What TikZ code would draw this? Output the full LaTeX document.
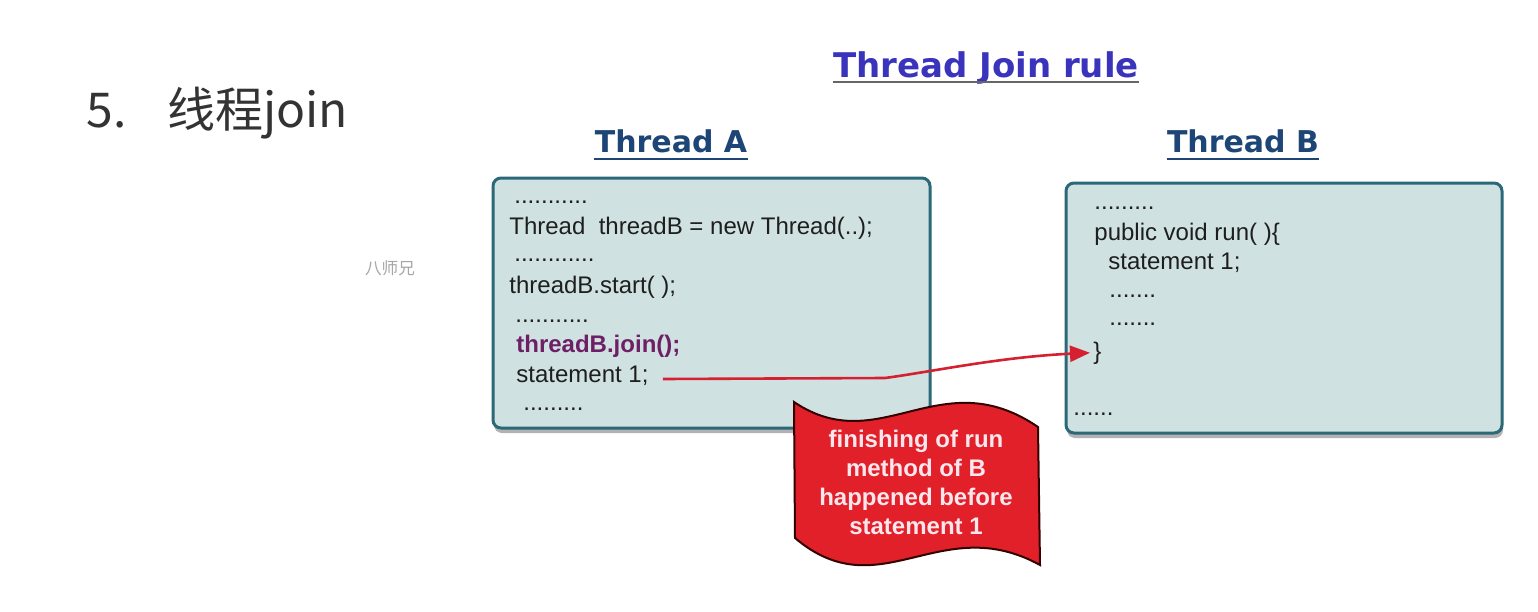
\documentclass[tikz,border=0pt]{standalone}
\usepackage{fontspec}
\setmainfont{Liberation Sans}
\newfontfamily\headfont{DejaVu Sans}
\newfontfamily\cjk{Noto Sans CJK SC}
\usetikzlibrary{arrows.meta,shadows}

\definecolor{boxfill}{HTML}{D0E1E1}
\definecolor{boxline}{HTML}{2B6878}
\definecolor{titleblue}{HTML}{3A33BC}
\definecolor{headblue}{HTML}{1D4576}
\definecolor{codeink}{HTML}{1E1E1E}
\definecolor{joinink}{HTML}{6E1F66}
\definecolor{flagred}{HTML}{E1202A}
\definecolor{arrowred}{HTML}{D42030}
\definecolor{flagink}{HTML}{FDE6EC}

\tikzset{
  codebox/.style={draw=boxline, line width=1.5pt, fill=boxfill, rounded corners=4pt,
    drop shadow={shadow xshift=0.5pt, shadow yshift=-2.5pt, opacity=0.3, fill=black}},
  code/.style={font=\fontsize{12}{14}\selectfont, text=codeink, inner sep=0pt, anchor=base west},
  heading/.style={font=\headfont\bfseries\fontsize{15}{18}\selectfont, text=headblue, inner sep=0pt, anchor=base},
  link/.style={draw=arrowred, line width=1.3pt, -{Triangle[length=10pt,width=8pt]}},
}

\begin{document}
\begin{tikzpicture}[x=0.5pt,y=-0.5pt]
\useasboundingbox (0,0) rectangle (1538,611);

% slide heading
\node[inner sep=0pt, anchor=base west, text=black!80, font=\cjk\fontsize{24}{28}\selectfont] (num) at (86,127) {5.};
\node[inner sep=0pt, anchor=base west, text=black!80, font=\cjk\fontsize{24}{28}\selectfont] (topic) at (167,127) {线程join};
\node[text=black!35, font=\cjk\fontsize{8.3}{10}\selectfont, inner sep=0pt] (mark) at (390,268) {八师兄};

% rule title
\node[inner sep=0pt, anchor=base, text=titleblue, font=\headfont\bfseries\fontsize{17}{20}\selectfont] (title) at (986,77) {Thread Join rule};
\draw[line width=1pt, draw=black!60] ([yshift=-2.5pt]title.base west) -- ([yshift=-2.5pt]title.base east);

% thread headings
\node[heading] (headA) at (671,152) {Thread A};
\draw[line width=1.2pt, draw=headblue] ([yshift=-3.5pt]headA.base west) -- ([yshift=-3.5pt]headA.base east);
\node[heading] (headB) at (1243,152) {Thread B};
\draw[line width=1.2pt, draw=headblue] ([yshift=-3.5pt]headB.base west) -- ([yshift=-3.5pt]headB.base east);

% code boxes
\node[codebox, minimum width=218.5pt, minimum height=125pt] (boxA) at (711.5,303) {};
\node[codebox, minimum width=218pt, minimum height=125pt] (boxB) at (1284,308) {};

% Thread A code
\node[code] (a1) at (514,203) {...........};
\node[code] (a2) at (509,234) {Thread\ \ threadB = new Thread(..);};
\node[code] (a3) at (514,261) {............};
\node[code] (a4) at (509,293) {threadB.start( );};
\node[code] (a5) at (515,322) {...........};
\node[code, text=joinink, font=\bfseries\fontsize{12}{14}\selectfont] (a6) at (516,352) {threadB.join();};
\node[code] (sA) at (516,382) {statement 1;};
\node[code] (a8) at (523,410) {.........};

% Thread B code
\node[code] (b1) at (1094,209) {.........};
\node[code] (b2) at (1094,240) {public void run( )\{};
\node[code] (b3) at (1108,269) {statement 1;};
\node[code] (b4) at (1109,297) {.......};
\node[code] (b5) at (1109,325) {.......};
\node[code] (brace) at (1093,359) {\}};
\node[code] (b7) at (1073,415) {......};

% happens-before link
\draw[link] ([shift={(7pt,1.5pt)}]sA.base east) -- (885,378)
  .. controls (930,372) and (1000,357) .. ([xshift=-1.5pt]brace.west);

% banner
\draw[fill=flagred, draw=black!80!red, line width=1pt]
  (794,402) .. controls (880,460) and (940,360) .. (1038,427)
  -- (1040,565)
  .. controls (940,510) and (880,610) .. (795,538) -- cycle;
\node[align=center, text=flagink, font=\bfseries\fontsize{12}{14.5}\selectfont] (note) at (916,482)
  {finishing of run\\method of B\\happened before\\statement 1};

\end{tikzpicture}
\end{document}
